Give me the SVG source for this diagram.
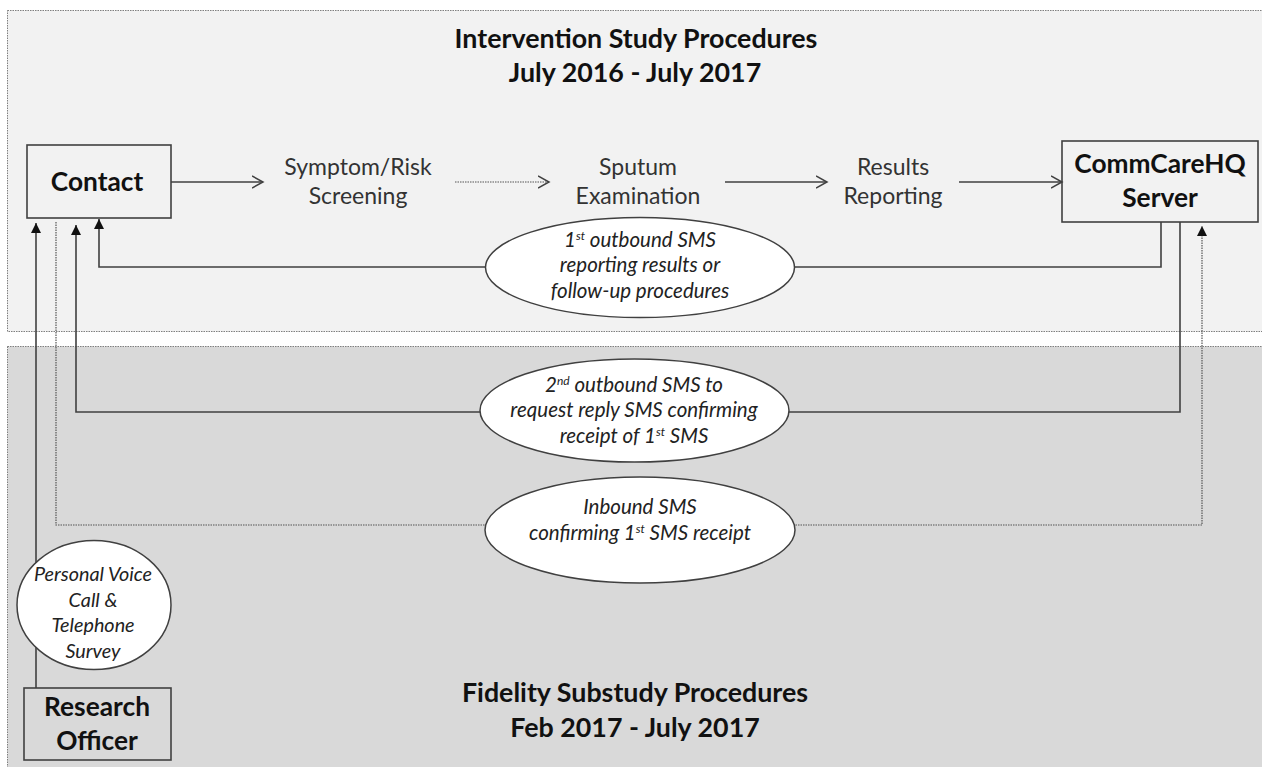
<svg xmlns="http://www.w3.org/2000/svg" width="1262" height="767" viewBox="0 0 1262 767">
<style>
.panel{stroke:#7f7f7f;stroke-width:1;stroke-dasharray:1.5 1}
.box{fill:none;stroke:#404040;stroke-width:1.6}
.boxt{font-family:Lato,"Liberation Sans",sans-serif;font-weight:bold;font-size:26.3px;fill:#111;text-anchor:middle}
.title{font-family:Lato,"Liberation Sans",sans-serif;font-weight:bold;font-size:26.8px;fill:#111;text-anchor:middle}
.step{font-family:Lato,"Liberation Sans",sans-serif;font-size:23px;fill:#333;text-anchor:middle}
.ell{fill:#fff;stroke:#404040;stroke-width:1.5}
.et{font-family:Lato,"Liberation Sans",sans-serif;font-style:italic;font-size:20.5px;fill:#222;text-anchor:middle}
.vt{font-size:19.8px}
.sup{font-size:12px}
.solid{fill:none;stroke:#404040;stroke-width:1.6}
.dot{fill:none;stroke:#555;stroke-width:1.2;stroke-dasharray:1.5 1}
</style>
<defs>
<marker id="chev" markerUnits="userSpaceOnUse" markerWidth="14" markerHeight="14" refX="11" refY="7" orient="auto" viewBox="0 0 14 14">
<path d="M0,1 L11,7 L0,13" fill="none" stroke="#404040" stroke-width="1.5"/>
</marker>
<marker id="tri" markerUnits="userSpaceOnUse" markerWidth="12" markerHeight="12" refX="10" refY="5" orient="auto" viewBox="0 0 12 10">
<path d="M0,0 L10,5 L0,10 Z" fill="#111"/>
</marker>
</defs>
<rect class="panel" x="7.5" y="10.5" width="1262" height="321" fill="#f2f2f2"/>
<rect class="panel" x="7.5" y="346.5" width="1262" height="430" fill="#d9d9d9"/>
<text class="title" x="636" y="48">Intervention Study Procedures</text>
<text class="title" x="635" y="82">July 2016 - July 2017</text>
<text class="title" x="635" y="702">Fidelity Substudy Procedures</text>
<text class="title" x="635" y="737">Feb 2017 - July 2017</text>
<g id="connectors">
<path class="solid" d="M171,182 H263" marker-end="url(#chev)"/>
<path class="dot" d="M455,182 H549" marker-end="url(#chev)"/>
<path class="solid" d="M725,182 H827" marker-end="url(#chev)"/>
<path class="solid" d="M959,182 H1062" marker-end="url(#chev)"/>
<path class="solid" d="M1161,222 V267 H99 V219" marker-end="url(#tri)"/>
<path class="solid" d="M1180,222 V412 H76 V225" marker-end="url(#tri)"/>
<path class="dot" d="M56,222 V525 H1202 V226" marker-end="url(#tri)"/>
<path class="solid" d="M36,688 V223" marker-end="url(#tri)"/>
</g>
<g id="contact">
<rect class="box" x="27" y="145" width="144" height="73"/>
<text class="boxt" x="97" y="191">Contact</text>
</g>
<g id="screening">
<text class="step" x="358" y="175">Symptom/Risk</text>
<text class="step" x="358" y="204">Screening</text>
</g>
<g id="sputum">
<text class="step" x="638" y="175">Sputum</text>
<text class="step" x="638" y="204">Examination</text>
</g>
<g id="results">
<text class="step" x="893" y="175">Results</text>
<text class="step" x="893" y="204">Reporting</text>
</g>
<g id="server">
<rect class="box" x="1062" y="141" width="196" height="81"/>
<text class="boxt" x="1160" y="173">CommCareHQ</text>
<text class="boxt" x="1160" y="207">Server</text>
</g>
<g id="sms1">
<ellipse class="ell" cx="640" cy="267.5" rx="154.5" ry="50"/>
<text class="et" x="640" y="247">1<tspan class="sup" dy="-7">st</tspan><tspan dy="7"> outbound SMS</tspan></text>
<text class="et" x="640" y="272">reporting results or</text>
<text class="et" x="640" y="298">follow-up procedures</text>
</g>
<g id="sms2">
<ellipse class="ell" cx="634.5" cy="410.5" rx="154.5" ry="51.5"/>
<text class="et" x="634" y="392">2<tspan class="sup" dy="-7">nd</tspan><tspan dy="7">  outbound SMS to</tspan></text>
<text class="et" x="634" y="417">request reply SMS confirming</text>
<text class="et" x="634" y="443">receipt of 1<tspan class="sup" dy="-7">st</tspan><tspan dy="7"> SMS</tspan></text>
</g>
<g id="sms3">
<ellipse class="ell" cx="640" cy="530" rx="155" ry="53"/>
<text class="et" x="640" y="514">Inbound SMS</text>
<text class="et" x="640" y="540">confirming 1<tspan class="sup" dy="-7">st</tspan><tspan dy="7"> SMS receipt</tspan></text>
</g>
<g id="voice">
<ellipse class="ell" cx="94" cy="605" rx="77" ry="64.5"/>
<text class="et vt" x="93" y="581">Personal Voice</text>
<text class="et vt" x="93" y="607">Call &amp;</text>
<text class="et vt" x="93" y="632">Telephone</text>
<text class="et vt" x="93" y="658">Survey</text>
</g>
<g id="research-officer">
<rect class="box" x="24" y="688" width="147" height="72"/>
<text class="boxt" x="97" y="716">Research</text>
<text class="boxt" x="97" y="750">Officer</text>
</g>
</svg>
